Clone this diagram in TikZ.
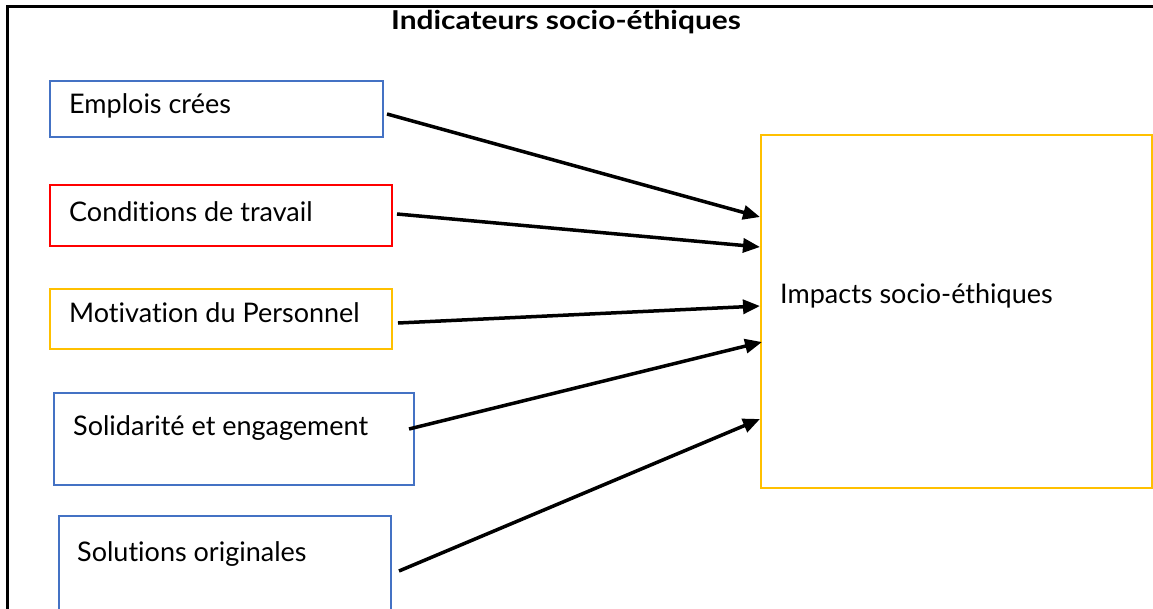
\documentclass[tikz,border=0pt]{standalone}
\usepackage{fontspec}
\setmainfont{Lato}[Ligatures=NoCommon]
\newfontfamily\titlefont[FakeStretch=1.15,Ligatures=NoCommon]{Lato}
\usetikzlibrary{arrows.meta,calc}
\definecolor{boxblue}{HTML}{4472C4}
\definecolor{boxred}{HTML}{FF0000}
\definecolor{boxyellow}{HTML}{FFC000}
\tikzset{
  ibox/.style={draw, line width=2pt, inner sep=0pt, anchor=north west, fill=none},
  lbl/.style={anchor=base west, inner sep=0pt, font=\fontsize{27}{32}\selectfont},
  arr/.style={line width=3.5pt, -{Triangle[length=17pt,width=14pt]}}
}
\begin{document}
\begin{tikzpicture}[x=1pt,y=-1pt]
\useasboundingbox (0,0) rectangle (1153,608);
\draw[line width=3pt] (7,640) -- (7,6) -- (1170,6);
\node[anchor=base, inner sep=0pt, font=\titlefont\fontsize{26}{32}\selectfont\bfseries] (title) at (566,29) {Indicateurs socio-éthiques};
\node[ibox, draw=boxblue, minimum width=333pt, minimum height=56pt] (e1) at (49,80) {};
\node[ibox, draw=boxred, minimum width=342pt, minimum height=61pt] (e2) at (49,184) {};
\node[ibox, draw=boxyellow, minimum width=342pt, minimum height=60pt] (e3) at (49,288) {};
\node[ibox, draw=boxblue, minimum width=360pt, minimum height=92pt] (e4) at (53,392) {};
\node[ibox, draw=boxblue, minimum width=332pt, minimum height=100pt] (e5) at (58,515) {};
\node[ibox, draw=boxyellow, minimum width=391pt, minimum height=353pt] (imp) at (760,134) {};
\node[lbl] (t1) at (69,113) {Emplois crées};
\node[lbl] (t2) at (69,221) {Conditions de travail};
\node[lbl] (t3) at (69,322) {Motivation du Personnel};
\node[lbl] (t4) at (73,435) {Solidarité et engagement};
\node[lbl] (t5) at (77,561) {Solutions originales};
\node[lbl] (timp) at (780,303) {Impacts socio-éthiques};
\draw[arr] ($(e1.east)+(3,5)$) -- ($(imp.north west)+(0,83)$);
\draw[arr] ($(e2.east)+(4,-1.5)$) -- ($(imp.north west)+(0,113)$);
\draw[arr] ($(e3.east)+(5,4)$) -- ($(imp.north west)+(0,172)$);
\draw[arr] ($(e4.east)+(-6,-10)$) -- ($(imp.north west)+(2,208)$);
\draw[arr] ($(e5.east)+(7,5)$) -- ($(imp.north west)+(0,285)$);
\end{tikzpicture}
\end{document}
